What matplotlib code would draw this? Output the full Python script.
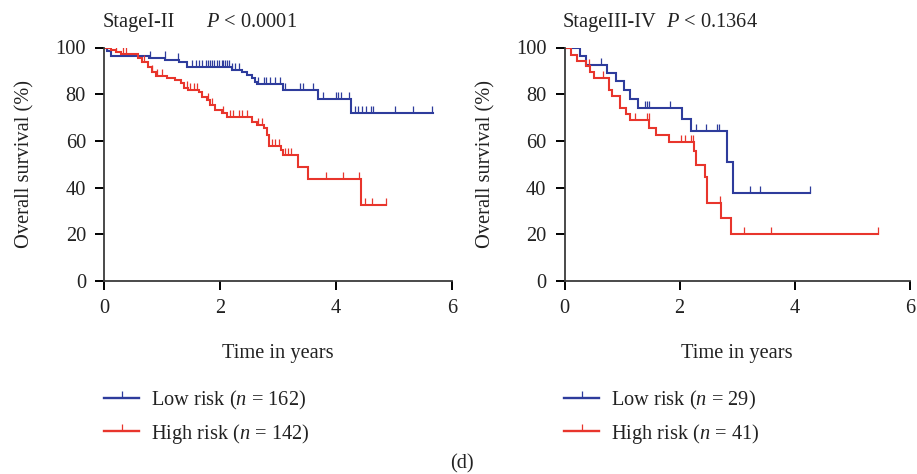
import numpy as np
import matplotlib
matplotlib.use("Agg")
import matplotlib.pyplot as plt
from matplotlib.lines import Line2D

plt.rcParams['font.family'] = ['Liberation Serif', 'DejaVu Serif']
plt.rcParams['mathtext.fontset'] = 'custom'
plt.rcParams['mathtext.rm'] = 'Liberation Serif'
plt.rcParams['mathtext.it'] = 'Liberation Serif:italic'

BLUE = '#2E3C9C'
RED = '#E8352C'

# ---------------- data ----------------
# Stage I-II
low12_t = [0, 0.05, 0.12, 0.78, 1.06, 1.29, 1.43, 2.21, 2.38, 2.46, 2.55, 2.60, 2.63, 3.09, 3.69, 4.25, 5.67]
low12_s = [100, 98.5, 96.4, 95.6, 94.6, 93.6, 91.8, 90.5, 89.6, 88.2, 87.0, 85.3, 84.2, 81.7, 78.1, 72.1, 72.1]
low12_c = [0.05, 0.79, 1.05, 1.27, 1.52, 1.58, 1.63, 1.69, 1.75, 1.80, 1.83, 1.87, 1.90, 1.94, 1.98,
           2.03, 2.06, 2.09, 2.12, 2.15, 2.21, 2.26, 2.32, 2.66, 2.75, 2.80, 2.86, 2.95, 3.03, 3.12,
           3.38, 3.43, 3.61, 3.78, 4.0, 4.04, 4.08, 4.22, 4.32, 4.38, 4.45, 4.52, 4.61, 4.64, 5.02,
           5.32, 5.66]
high12_t = [0, 0.12, 0.21, 0.29, 0.58, 0.66, 0.75, 0.83, 0.89, 1.09, 1.23, 1.32, 1.38, 1.45, 1.63,
            1.69, 1.78, 1.83, 1.92, 2.03, 2.12, 2.55, 2.63, 2.75, 2.81, 2.85, 3.05, 3.08, 3.35, 3.52,
            4.43, 4.86]
high12_s = [100, 98.9, 97.9, 97.1, 95.3, 93.6, 91.8, 89.6, 87.9, 87.0, 86.0, 84.6, 82.5, 81.6, 80.8,
            78.9, 77.5, 75.3, 73.2, 71.8, 70.4, 68.2, 67.0, 65.4, 62.5, 58.0, 56.0, 53.8, 48.9, 43.6,
            32.5, 32.5]
high12_c = [0.21, 0.32, 0.38, 0.69, 0.83, 0.92, 1.0, 1.43, 1.49, 1.55, 1.6, 1.8, 1.86, 2.06, 2.18,
            2.23, 2.32, 2.38, 2.46, 2.66, 2.72, 2.89, 2.95, 3.01, 3.12, 3.18, 3.23, 3.82, 4.12, 4.40,
            4.50, 4.62, 4.86]

# Stage III-IV
low34_t = [0, 0.27, 0.38, 0.74, 0.89, 1.03, 1.13, 1.28, 2.04, 2.19, 2.82, 2.92, 4.26]
low34_s = [100, 96.2, 92.7, 89.0, 85.6, 81.9, 78.1, 74.2, 69.2, 64.1, 51.0, 37.9, 37.9]
low34_c = [0.64, 1.39, 1.43, 1.46, 1.83, 2.29, 2.46, 2.64, 2.68, 3.22, 3.39, 4.26]
high34_t = [0, 0.12, 0.21, 0.37, 0.44, 0.51, 0.78, 0.83, 0.97, 1.07, 1.14, 1.47, 1.59, 1.81, 2.25,
            2.28, 2.44, 2.47, 2.71, 2.90, 5.45]
high34_s = [100, 97.0, 94.4, 92.0, 89.5, 87.0, 81.6, 79.2, 74.2, 71.7, 68.8, 65.7, 62.7, 59.5, 55.5,
            49.6, 44.6, 33.6, 26.8, 20.1, 20.1]
high34_c = [0.06, 0.42, 0.67, 1.22, 1.43, 1.46, 2.03, 2.09, 2.2, 2.23, 2.70, 3.12, 3.59, 5.45]

titles = ["StageI-II", "StageIII-IV"]
pvals = ["$P$ < 0.0001", "$P$ < 0.1364"]
low_labels = ["Low risk ($n$ = 162)", "Low risk ($n$ = 29)"]
high_labels = ["High risk ($n$ = 142)", "High risk ($n$ = 41)"]
xticks = [0, 2, 4, 6]
yticks = [0, 20, 40, 60, 80, 100]

W, H = 917, 474
fig = plt.figure(figsize=(W / 100, H / 100), dpi=100)


def px(x0, y0, x1, y1):
    return [x0 / W, 1 - y1 / H, (x1 - x0) / W, (y1 - y0) / H]


FS = 14.7
TC = '#222222'


def surv_at(t, s, c):
    t = np.asarray(t); s = np.asarray(s)
    idx = np.searchsorted(t, np.asarray(c), side='right') - 1
    return s[np.clip(idx, 0, len(s) - 1)]


def draw(ax, curves):
    for (t, s, c, col) in curves:
        ax.step(t, s, where='post', color=col, lw=1.5, solid_joinstyle='miter')
        ax.plot(c, surv_at(t, s, c), linestyle='none', marker=2, markersize=5,
                markeredgewidth=0.9, color=col)
    ax.set_xlim(0, 6)
    ax.set_ylim(0, 100)
    ax.set_xticks(xticks)
    ax.set_yticks(yticks)
    for sp in ['top', 'right']:
        ax.spines[sp].set_visible(False)
    for sp in ['left', 'bottom']:
        ax.spines[sp].set_linewidth(1.3)
        ax.spines[sp].set_color('#3a3a3a')
    ax.tick_params(direction='out', length=6.5, width=1.4, color='black',
                   labelsize=FS, pad=6.5, labelcolor=TC)
    ax.set_xlabel("Time in years", fontsize=FS, labelpad=19, color=TC)
    ax.set_ylabel("Overall survival (%)", fontsize=FS, labelpad=15, color=TC)


ax1 = fig.add_axes(px(104, 47.5, 452, 281))
ax2 = fig.add_axes(px(564.5, 47.5, 910, 281))

draw(ax1, [(low12_t, low12_s, low12_c, BLUE), (high12_t, high12_s, high12_c, RED)])
draw(ax2, [(low34_t, low34_s, low34_c, BLUE), (high34_t, high34_s, high34_c, RED)])

# titles
fig.text(103 / W, 1 - 27 / H, titles[0], fontsize=FS, va='baseline', ha='left', color=TC)
fig.text(206.5 / W, 1 - 27 / H, pvals[0], fontsize=FS, va='baseline', ha='left', color=TC)
fig.text(562.5 / W, 1 - 27 / H, titles[1], fontsize=FS, va='baseline', ha='left', color=TC)
fig.text(666 / W, 1 - 27 / H, pvals[1], fontsize=FS, va='baseline', ha='left', color=TC)

# legends
for ax, i, x0 in [(ax1, 0, 104), (ax2, 1, 564)]:
    handles = [Line2D([], [], color=BLUE, lw=1.7, marker=2, markersize=5, markeredgewidth=0.9),
               Line2D([], [], color=RED, lw=1.7, marker=2, markersize=5, markeredgewidth=0.9)]
    fig.legend(handles, [low_labels[i], high_labels[i]], loc='upper left',
               bbox_to_anchor=(x0 / W, 1 - 389 / H), frameon=False, fontsize=FS,
               handlelength=1.72, handletextpad=0.57, labelspacing=0.47, numpoints=1,
               borderpad=0, borderaxespad=0, labelcolor=TC)

fig.text(462 / W, 1 - 468 / H, "(d)", fontsize=FS, ha='center', va='baseline', color=TC)

fig.savefig("out.png", dpi=100)
